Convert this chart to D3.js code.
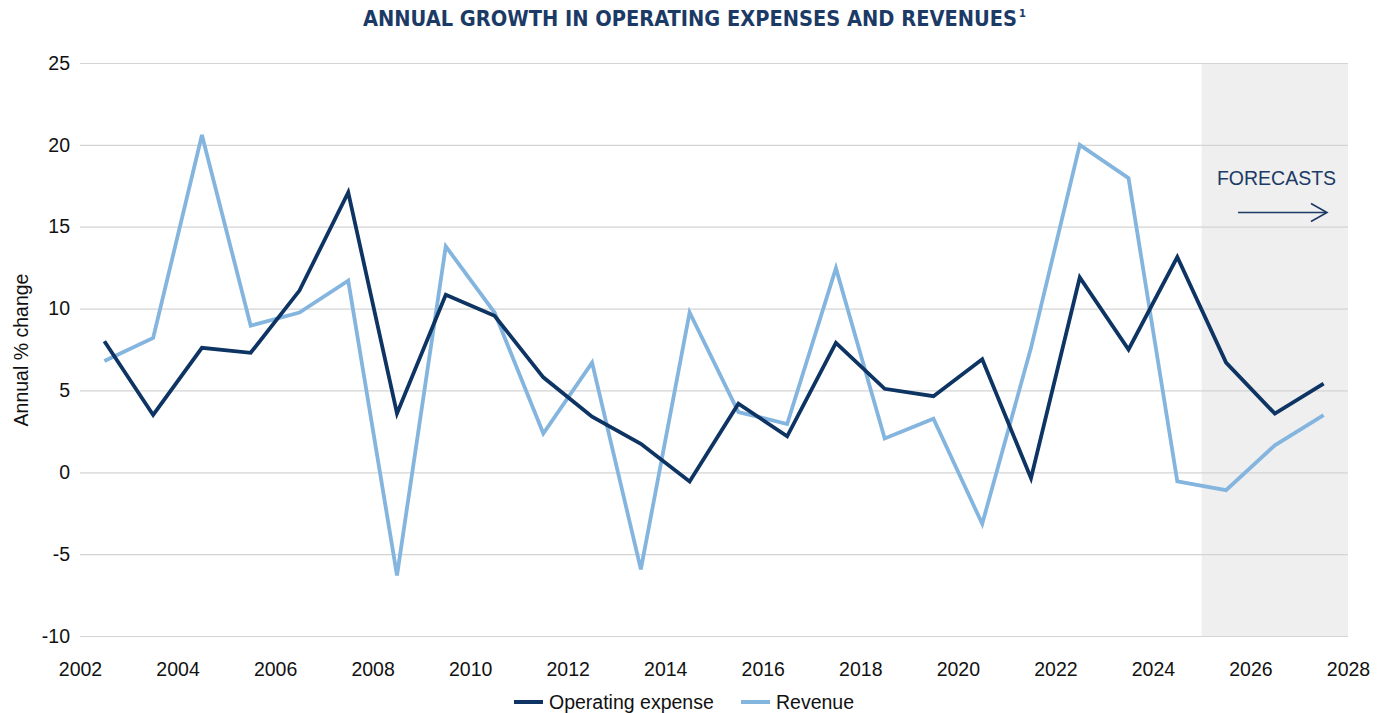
<!DOCTYPE html>
<html>
<head>
<meta charset="utf-8">
<script src="https://cdn.jsdelivr.net/npm/d3@7"></script>
<style>
  body { margin: 0; background: #fff; }
  svg { display: block; font-family: "Liberation Sans", Arial, sans-serif; }
</style>
</head>
<body>
<svg></svg>
<script>
// data
let years = [2002.5, 2003.5, 2004.5, 2005.5, 2006.5, 2007.5, 2008.5, 2009.5, 2010.5, 2011.5,
             2012.5, 2013.5, 2014.5, 2015.5, 2016.5, 2017.5, 2018.5, 2019.5, 2020.5, 2021.5,
             2022.5, 2023.5, 2024.5, 2025.5, 2026.5, 2027.5]
let opex = [8.0, 3.5, 7.6, 7.3, 11.1, 17.1, 3.6, 10.85, 9.56, 5.8,
            3.4, 1.74, -0.56, 4.19, 2.2, 7.9, 5.1, 4.65, 6.9, -0.36,
            11.9, 7.5, 13.15, 6.7, 3.58, 5.42]
let revenue = [6.8, 8.2, 20.6, 8.96, 9.76, 11.7, -6.3, 13.8, 9.76, 2.37,
               6.7, -5.93, 9.76, 3.68, 2.95, 12.47, 2.06, 3.27, -3.15, 7.6,
               20.0, 17.97, -0.56, -1.09, 1.65, 3.49]
let yTicks = [-10, -5, 0, 5, 10, 15, 20, 25]
let xTicks = [2002, 2004, 2006, 2008, 2010, 2012, 2014, 2016, 2018, 2020, 2022, 2024, 2026, 2028]
let forecastStart = 2025
let seriesNames = ['Operating expense', 'Revenue']

let width = 1383
let height = 713
let plotLeft = 80
let plotRight = 1348
let plotTop = 63
let plotBottom = 636
let fontSize = 19.5

let navy = '#0d3463'
let light = '#84b5de'
let noteColor = '#1b3a66'

let svg = d3.select('svg').attr('width', width).attr('height', height)

let xScale = d3.scaleLinear().domain([2002, 2028]).range([plotLeft, plotRight])
let yScale = d3.scaleLinear().domain([-10, 25]).range([plotBottom, plotTop])

// hyphen minus like the original, not the unicode minus
let fmt = (d) => String(d)

// forecast shading
svg.append('rect')
    .attr('x', xScale(forecastStart))
    .attr('y', yScale(25))
    .attr('width', xScale(2028) - xScale(forecastStart))
    .attr('height', yScale(-10) - yScale(25))
    .attr('fill', '#efefef')

// gridlines + y labels
let yAxis = d3.axisLeft(yScale)
    .tickValues(yTicks)
    .tickSize(-(plotRight - plotLeft))
    .tickPadding(10)
    .tickFormat(fmt)

let gy = svg.append('g')
    .attr('transform', 'translate(' + plotLeft + ',0)')
    .call(yAxis)
gy.select('.domain').remove()
gy.selectAll('.tick line').attr('stroke', '#d4d4d4').attr('stroke-width', 1.2)
gy.selectAll('.tick text')
    .attr('font-size', fontSize)
    .attr('font-family', '"Liberation Sans", Arial, sans-serif')
    .attr('fill', '#111')

let xAxis = d3.axisBottom(xScale)
    .tickValues(xTicks)
    .tickSize(0)
    .tickPadding(26)
    .tickFormat(fmt)

let gx = svg.append('g')
    .attr('transform', 'translate(0,' + plotBottom + ')')
    .call(xAxis)
gx.select('.domain').remove()
gx.selectAll('.tick text')
    .attr('font-size', fontSize)
    .attr('font-family', '"Liberation Sans", Arial, sans-serif')
    .attr('fill', '#111')

// y axis title
svg.append('text')
    .attr('transform', 'translate(28,350) rotate(-90)')
    .attr('text-anchor', 'middle')
    .attr('font-size', fontSize)
    .attr('fill', '#111')
    .text('Annual % change')

// lines
let line = (vals) => d3.line()
    .x((d, i) => xScale(years[i]))
    .y((d) => yScale(d))(vals)

svg.append('path')
    .attr('d', line(revenue))
    .attr('fill', 'none')
    .attr('stroke', light)
    .attr('stroke-width', 3.8)
    .attr('stroke-linejoin', 'miter')

svg.append('path')
    .attr('d', line(opex))
    .attr('fill', 'none')
    .attr('stroke', navy)
    .attr('stroke-width', 3.8)
    .attr('stroke-linejoin', 'miter')

// forecasts note
svg.append('text')
    .attr('x', 1276.5)
    .attr('y', 185)
    .attr('text-anchor', 'middle')
    .attr('font-size', fontSize)
    .attr('fill', noteColor)
    .text('FORECASTS')

svg.append('line')
    .attr('x1', 1238).attr('x2', 1326)
    .attr('y1', 212.5).attr('y2', 212.5)
    .attr('stroke', noteColor).attr('stroke-width', 1.6)
svg.append('path')
    .attr('d', 'M1311,203.5 L1327,212.5 L1311,221.5')
    .attr('fill', 'none')
    .attr('stroke', noteColor).attr('stroke-width', 1.6)

// title, superscript placed right after the measured title
let titleFont = '"DejaVu Sans Condensed", "DejaVu Sans", sans-serif'
let title = svg.append('text')
    .attr('x', 363)
    .attr('y', 26)
    .attr('font-family', titleFont)
    .attr('font-stretch', 'condensed')
    .attr('font-weight', 'bold')
    .attr('font-size', 21.6)
    .attr('fill', noteColor)
    .text('ANNUAL GROWTH IN OPERATING EXPENSES AND REVENUES')
let titleLen = title.node().getComputedTextLength()
svg.append('text')
    .attr('x', 363 + titleLen + 2)
    .attr('y', 17)
    .attr('font-family', titleFont)
    .attr('font-stretch', 'condensed')
    .attr('font-weight', 'bold')
    .attr('font-size', 11)
    .attr('fill', noteColor)
    .text('1')

// legend
let legend = svg.append('g')
let items = [
    { name: seriesNames[0], color: navy, x: 514 },
    { name: seriesNames[1], color: light, x: 741 }
]
items.forEach((it) => {
    legend.append('line')
        .attr('x1', it.x).attr('x2', it.x + 29)
        .attr('y1', 702).attr('y2', 702)
        .attr('stroke', it.color).attr('stroke-width', 4)
    legend.append('text')
        .attr('x', it.x + 35)
        .attr('y', 709)
        .attr('font-size', fontSize)
        .attr('fill', '#111')
        .text(it.name)
})
</script>
</body>
</html>
